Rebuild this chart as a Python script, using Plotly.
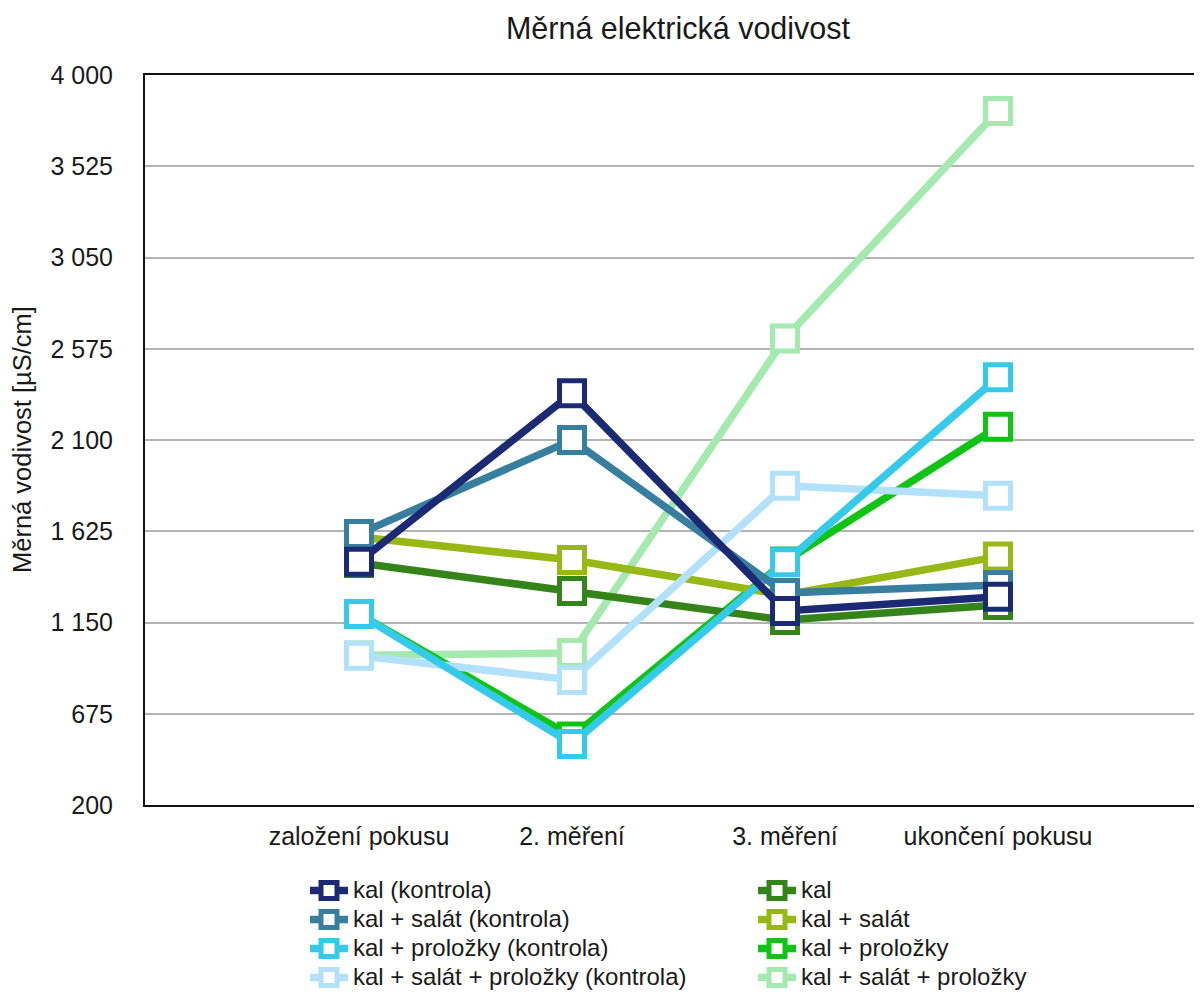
import plotly.graph_objects as go

categories = ["založení pokusu", "2. měření", "3. měření", "ukončení pokusu"]

series_names = [
    "kal (kontrola)", "kal + salát (kontrola)", "kal + proložky (kontrola)",
    "kal + salát + proložky (kontrola)",
    "kal", "kal + salát", "kal + proložky", "kal + salát + proložky",
]

kal_kontrola = [1466, 2343, 1210, 1284]
kal_salat_kontrola = [1611, 2100, 1304, 1345]
kal_prolozky_kontrola = [1194, 518, 1463, 2426]
kal_salat_prolozky_kontrola = [977, 851, 1862, 1810]
kal = [1460, 1314, 1163, 1241]
kal_salat = [1595, 1475, 1293, 1493]
kal_prolozky = [1194, 556, 1468, 2169]
kal_salat_prolozky = [980, 991, 2629, 3813]

y_tickvals = [200, 675, 1150, 1625, 2100, 2575, 3050, 3525, 4000]
y_ticktext = ["200", "675", "1 150", "1 625", "2 100", "2 575", "3 050", "3 525", "4 000"]

colors = {
    "kal (kontrola)": "#1b2a73",
    "kal + salát (kontrola)": "#377e9f",
    "kal + proložky (kontrola)": "#35c9ea",
    "kal + salát + proložky (kontrola)": "#b2e1fb",
    "kal": "#35841a",
    "kal + salát": "#97b815",
    "kal + proložky": "#10c416",
    "kal + salát + proložky": "#a4e9ae",
}
values = dict(zip(series_names, [
    kal_kontrola, kal_salat_kontrola, kal_prolozky_kontrola, kal_salat_prolozky_kontrola,
    kal, kal_salat, kal_prolozky, kal_salat_prolozky,
]))
# legend ordering: row-wise, left column kontrola, right column others
legend_rank = {
    "kal (kontrola)": 1, "kal": 2,
    "kal + salát (kontrola)": 3, "kal + salát": 4,
    "kal + proložky (kontrola)": 5, "kal + proložky": 6,
    "kal + salát + proložky (kontrola)": 7, "kal + salát + proložky": 8,
}
draw_order = [
    "kal + salát + proložky", "kal + proložky", "kal + salát", "kal",
    "kal + salát + proložky (kontrola)", "kal + proložky (kontrola)",
    "kal + salát (kontrola)", "kal (kontrola)",
]

x_idx = list(range(len(categories)))

W, H = 1194, 984  # page has an 8px body margin
L, T, B = 137, 67, 187
PW = W - L
PH = H - T - B

fig = go.Figure()
for name in draw_order:
    fig.add_trace(go.Scatter(
        x=x_idx, y=values[name],
        name=f"<span style='font-size:24px'>{name}</span>",
        mode="lines+markers",
        line=dict(color=colors[name], width=7.5),
        marker=dict(symbol="square", size=25, color="white",
                    line=dict(color=colors[name], width=5)),
        legendrank=legend_rank[name],
    ))

font_family = "Liberation Sans, Arial, sans-serif"
txt = "#1a1a1a"

fig.update_layout(
    width=W, height=H,
    paper_bgcolor="white", plot_bgcolor="white",
    margin=dict(l=L, r=0, t=T, b=B, autoexpand=False),
    font=dict(family=font_family, size=25, color=txt),
    title=dict(text="Měrná elektrická vodivost", x=(678 - 8 - L) / PW, xref="paper",
               xanchor="center",
               y=1 - 20 / H, yref="container", yanchor="middle",
               font=dict(size=30.5, color=txt)),
    showlegend=True,
    legend=dict(orientation="h", xref="container", yref="container",
                x=297 / W, y=1 - 863 / H, xanchor="left", yanchor="top",
                entrywidth=395, itemwidth=38, font=dict(size=20, color=txt),
                tracegroupgap=0, traceorder="normal"),
    xaxis=dict(
        range=[-214 / 213, -214 / 213 + PW / 213], tickmode="array",
        tickvals=x_idx, ticktext=categories,
        showgrid=False, zeroline=False, showline=True, linecolor="#111111",
        linewidth=2, mirror=True, ticks="outside", ticklen=8,
        tickcolor="rgba(0,0,0,0)", tickfont=dict(size=25),
    ),
    yaxis=dict(
        range=[200, 4000], tickmode="array", tickvals=y_tickvals, ticktext=y_ticktext,
        showgrid=True, gridcolor="#b3b3b3", gridwidth=1.5, zeroline=False,
        showline=True, linecolor="#111111", linewidth=2,
        ticks="outside", ticklen=25, tickcolor="rgba(0,0,0,0)",
        tickfont=dict(size=25),
    ),
    annotations=[dict(
        text="Měrná vodivost [µS/cm]", xref="paper", yref="paper",
        x=(14 - L) / PW, y=0.5, xanchor="center", yanchor="middle",
        textangle=-90, showarrow=False, font=dict(size=25.5, color=txt),
    )],
)

fig.write_html("out.html")
